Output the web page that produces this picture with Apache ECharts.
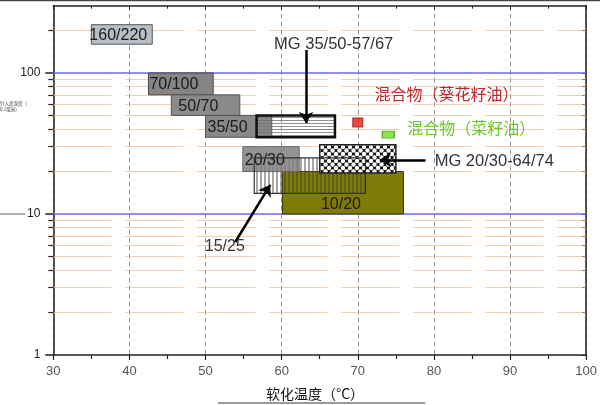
<!DOCTYPE html>
<html><head><meta charset="utf-8">
<script src="https://cdn.jsdelivr.net/npm/echarts@6/dist/echarts.min.js"></script>
<style>html,body{margin:0;padding:0;background:#fff}#c{width:600px;height:405px}</style>
</head><body><div id="c"></div>
<script>
// ---- data ----
const boxLabels = ['160/220','70/100','50/70','35/50','MG 35/50-57/67','10/20','15/25','20/30','MG 20/30-64/74'];
const softMin = [35, 42.5, 45.5, 50, 56.7, 60.1, 56.4, 54.9, 65];
const softMax = [43, 51, 54.5, 58.7, 67, 76, 71, 62.3, 75];
const penMin  = [160, 70, 50, 35, 35, 10, 14, 20, 19.5];
const penMax  = [220, 100, 70, 50, 50, 20, 25, 30, 31];

const blendNames = ['混合物（葵花籽油）','混合物（菜籽油）'];
const blendSoft = [70, 74];
const blendPen = [44.6, 36.6];

const noteTexts = ['MG 35/50-57/67','MG 20/30-64/74','15/25','混合物（葵花籽油）','混合物（菜籽油）'];
const noteX = [59.0, 80.1, 49.9, 72.2, 76.5];
const noteY = [160.6, 23.4, 5.83, 71.0, 40.7];

const arrowFrom = [[63.2,145.6],[78.9,24.2],[53.9,6.33]];
const arrowTo   = [[63.2,44.2],[72.9,24.2],[58.5,16.1]];

const xTicks = [30,40,50,60,70,80,90,100];
const yMajor = [1,10,100];
const yMinor = [2,3,4,5,6,7,8,9,20,30,40,50,60,70,80,90,200];

// ---- patterns ----
function mkPattern(w,h,draw){const c=document.createElement('canvas');c.width=w;c.height=h;const g=c.getContext('2d');draw(g);return {image:c,repeat:'repeat'};}
const patH = mkPattern(1,3,g=>{g.fillStyle='rgba(110,110,110,0.75)';g.fillRect(0,0,1,1);});
const patV = mkPattern(4,1,g=>{g.fillStyle='rgba(60,60,60,0.45)';g.fillRect(0,0,2,1);});
const patX = mkPattern(7,7,g=>{g.fillStyle='#111';g.fillRect(0,0,7,7);g.fillStyle='#fff';[[3.5,3.5],[0,0],[7,0],[0,7],[7,7]].forEach(p=>{g.beginPath();g.arc(p[0],p[1],2.2,0,Math.PI*2);g.fill();});});

const boxStyle = [
  {fill:'#b9bec6', stroke:'#555', lw:1, text:true, dx:-2},
  {fill:'#858585', stroke:'#444', lw:1, text:true, dx:1},
  {fill:'#8a8a8a', stroke:'#555', lw:1, text:true, dx:7},
  {fill:'#898989', stroke:'#555', lw:1, text:true, dx:2},
  {fill:patH, stroke:'#111', lw:2.5, text:false},
  {fill:'#7e7b06', stroke:'#3a3a00', lw:1, text:true, center:true},
  {fill:patV, stroke:null, lw:0, text:false},
  {fill:'rgba(128,128,128,0.85)', stroke:'#666', lw:1, text:true, dx:2},
  {fill:patX, stroke:'#222', lw:1.5, text:false}
];
const outlineTop = [6];

const boxData = boxLabels.map((n,i)=>[softMin[i], softMax[i], penMin[i], penMax[i], i]);
const noteColors = ['#333','#333','#333','#c1272d','#66cc22'];
const noteFonts = ['16.5px "Liberation Sans", Arial','16.5px "Liberation Sans", Arial','16px "Liberation Sans", Arial','16px "Noto Sans CJK SC"','16px "Noto Sans CJK SC"'];

const chart = echarts.init(document.getElementById('c'), null, {renderer:'canvas'});
const yBase = {type:'log', logBase:10, min:1, max:300};
chart.setOption({
  animation:false,
  backgroundColor:'#fff',
  grid:{left:53.3, right:9.3, top:5.7, bottom:50},
  xAxis:[
    {type:'value', min:30, max:100, interval:10, position:'bottom',
     axisLine:{lineStyle:{color:'#222', width:1.5}},
     axisTick:{length:5, lineStyle:{color:'#222', width:1.2}},
     minorTick:{show:true, splitNumber:2, length:4, lineStyle:{color:'#222', width:1.2}},
     axisLabel:{color:'#555', fontSize:13, margin:10, fontFamily:'"Liberation Sans", Arial'},
     splitLine:{show:true, lineStyle:{color:'#9a9a9a', type:[5,3], width:1}}},
    {type:'value', min:30, max:100, interval:10, position:'top',
     axisLine:{lineStyle:{color:'#222', width:1.5}},
     axisTick:{inside:true, length:4, lineStyle:{color:'#222'}},
     minorTick:{show:true, splitNumber:2, length:3, lineStyle:{color:'#222'}},
     axisLabel:{show:false}, splitLine:{show:false}}
  ],
  yAxis:[
    Object.assign({}, yBase, {position:'left',
     axisLine:{show:true, lineStyle:{color:'#222', width:1.5}},
     axisTick:{show:true, customValues:yMajor, length:8, lineStyle:{color:'#222', width:1.5}},
     axisLabel:{customValues:yMajor, color:'#222', fontSize:12, margin:13, fontFamily:'"Liberation Sans", Arial'},
     splitLine:{show:false}, minorTick:{show:false}}),
    Object.assign({}, yBase, {position:'right',
     axisLine:{show:true, lineStyle:{color:'#222', width:1.5}},
     axisTick:{show:true, inside:true, customValues:yMajor.concat(yMinor), length:4, lineStyle:{color:'#222'}},
     axisLabel:{show:false}, splitLine:{show:false}}),
    Object.assign({}, yBase, {position:'left',
     axisLine:{show:false},
     axisTick:{show:true, customValues:yMinor, length:5, lineStyle:{color:'#222', width:1.2}},
     axisLabel:{show:false}, splitLine:{show:false}})
  ],
  series:[
    {type:'scatter', data:[[30,1]], symbolSize:0, silent:true, z:1,
     markLine:{silent:true, z:1, symbol:'none', label:{show:false},
       data: yMinor.map(v=>({yAxis:v, lineStyle:{color:'rgba(240,175,120,0.6)', type:[58,14], width:1}}))
         .concat(yMajor.slice(1).map(v=>({yAxis:v, lineStyle:{color:'#6e64f0', type:'solid', width:1.5}})))}},
    {type:'custom', z:3, data:boxData, encode:{x:[0,1], y:[2,3]},
     renderItem:function(params, api){
       const i = api.value(4);
       const p1 = api.coord([api.value(0), api.value(3)]);
       const p2 = api.coord([api.value(1), api.value(2)]);
       const st = boxStyle[i];
       const ch = [{type:'rect', shape:{x:p1[0], y:p1[1], width:p2[0]-p1[0], height:p2[1]-p1[1]},
         style:{fill:st.fill, stroke:st.stroke||'none', lineWidth:st.lw}}];
       if(st.text){
         if(st.center){
           ch.push({type:'text', style:{text:boxLabels[i], x:(p1[0]+p2[0])/2-2, y:p2[1]-9, align:'center', verticalAlign:'middle', font:'16px "Liberation Sans", Arial', fill:'#1a1a1a'}});
         } else {
           ch.push({type:'text', style:{text:boxLabels[i], x:p1[0]+st.dx, y:(p1[1]+p2[1])/2+1, align:'left', verticalAlign:'middle', font:'16px "Liberation Sans", Arial', fill:'#1a1a1a'}});
         }
       }
       return {type:'group', children:ch};
     }},
    {type:'custom', z:4, data:outlineTop.map(i=>boxData[i]), encode:{x:[0,1], y:[2,3]},
     renderItem:function(params, api){
       const p1 = api.coord([api.value(0), api.value(3)]);
       const p2 = api.coord([api.value(1), api.value(2)]);
       return {type:'rect', shape:{x:p1[0], y:p1[1], width:p2[0]-p1[0], height:p2[1]-p1[1]}, style:{fill:'none', stroke:'#333', lineWidth:1.2}};
     }},
    {type:'scatter', z:5, data:blendSoft.map((x,i)=>({value:[x, blendPen[i]], name:blendNames[i],
       symbol:'rect', symbolSize: i===0?[10,9]:[12,7],
       itemStyle:{color: i===0?'#e0201c':'#72e022', borderColor: i===0?'#a01010':'#3f9010', borderWidth:1}}))},
    {type:'lines', coordinateSystem:'cartesian2d', z:6, silent:true,
     symbol:['none','arrow'], symbolSize:11,
     lineStyle:{color:'#000', width:2.5, opacity:1},
     data: arrowFrom.map((f,i)=>({coords:[f, arrowTo[i]]}))},
    {type:'custom', z:7, data:noteTexts.map((t,i)=>[noteX[i], noteY[i], i]), encode:{x:0, y:1},
     renderItem:function(params, api){
       const i = api.value(2);
       const p = api.coord([api.value(0), api.value(1)]);
       return {type:'text', style:{text:noteTexts[i], x:p[0], y:p[1], align:'left', verticalAlign:'middle', font:noteFonts[i], fill:noteColors[i]}};
     }}
  ],
  graphic:[
    {type:'text', left:266, top:387, style:{text:'软化温度（°C）', font:'14px "Noto Sans CJK SC"', fill:'#111'}},
    {type:'rect', shape:{x:218, y:402, width:207, height:2}, style:{fill:'#9a9a9a'}},
    {type:'text', left:0, top:101, style:{text:'针入度深度（\n0.1毫米）', font:'4.5px "Noto Sans CJK SC"', fill:'#333', lineHeight:5.5}},
    {type:'line', shape:{x1:0, y1:214, x2:25, y2:214}, style:{stroke:'#666', lineWidth:1}},
    {type:'rect', shape:{x:0, y:0, width:600, height:1.2}, style:{fill:'#444'}}
  ]
});
</script></body></html>
